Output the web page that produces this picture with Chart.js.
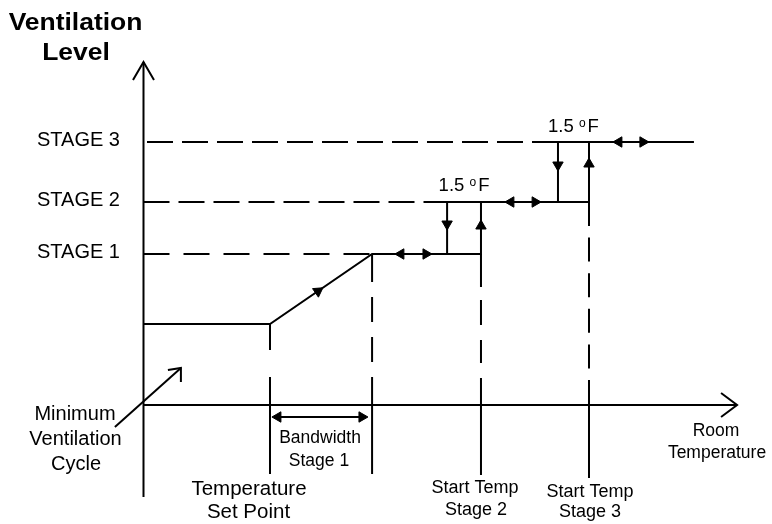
<!DOCTYPE html>
<html>
<head>
<meta charset="utf-8">
<script src="https://cdn.jsdelivr.net/npm/chart.js@4.4.0/dist/chart.umd.min.js"></script>
<style>
  html, body { margin: 0; padding: 0; background: #fff; }
  #wrap { width: 772px; height: 524px; }
</style>
</head>
<body>
<div id="wrap"><canvas id="ventChart" width="772" height="524"></canvas></div>
<script>
// x: room temperature in °F above the origin, y: ventilation level in %
const stageNames = ['STAGE 1', 'STAGE 2', 'STAGE 3'];
const stageLevels = [37.75, 50.75, 65.75];
const minLevel = 20.25;
const setPoint = 5.75;
const bandEnd = 10.39;
const stageOff = [13.8, 18.84];      // stage 2 / 3 switch back off
const stageOn = [15.34, 20.25];      // start temp stage 2 / 3
const lineEnd = 25.02;
const axisTop = 85.75;
const axisBottom = -23;
const axisRight = 26.98;
const tickBottom = [-17.25, -17.25, -17.5, -18.25];
const hystArrows = [[11.70, 12.84], [16.70, 17.80], [21.61, 22.70]];
const downArrows = [45.25, 60];
const upArrows = [44.75, 60.25];
const rampArrow = [7.93, 28.45];
const bandArrowY = -3;
const bandArrowX = [6.11, 9.93];
const minVentFrom = [-1.30, -5.5];
const minVentTo = [1.70, 9.25];
const hysteresis = '1.5';

const FONT = '"Liberation Sans", Arial, sans-serif';

function line(points, extra) {
    return Object.assign({
        data: points.map(p => ({ x: p[0], y: p[1] })),
        showLine: true,
        borderColor: '#000',
        borderWidth: 2,
        pointRadius: 0,
        fill: false,
        borderCapStyle: 'butt'
    }, extra || {});
}

const s1 = stageLevels[0], s2 = stageLevels[1], s3 = stageLevels[2];

// arrowheads drawn as triangle points
const heads = [];
hystArrows.forEach((pair, i) => {
    heads.push({ x: pair[0], y: stageLevels[i], r: 270 });
    heads.push({ x: pair[1], y: stageLevels[i], r: 90 });
});
heads.push({ x: stageOff[0], y: downArrows[0], r: 180 });
heads.push({ x: stageOff[1], y: downArrows[1], r: 180 });
heads.push({ x: stageOn[0], y: upArrows[0], r: 0 });
heads.push({ x: stageOn[1], y: upArrows[1], r: 0 });
heads.push({ x: rampArrow[0], y: rampArrow[1], r: 55.5 });
heads.push({ x: bandArrowX[0], y: bandArrowY, r: 270 });
heads.push({ x: bandArrowX[1], y: bandArrowY, r: 90 });

const datasets = [
    // axes
    line([[0, axisBottom], [0, axisTop]]),
    line([[0, 0], [axisRight, 0]]),
    // dashed stage levels
    line([[0, s1], [bandEnd, s1]], { borderDash: [26, 14] }),
    line([[0, s2], [stageOff[0], s2]], { borderDash: [26, 9] }),
    line([[0, s3], [stageOff[1], s3]], { borderDash: [26, 9], borderDashOffset: 31.5 }),
    // ventilation profile
    line([[0, minLevel], [setPoint, minLevel], [bandEnd, s1], [stageOn[0], s1], [stageOn[0], s2]]),
    line([[stageOff[0], s1], [stageOff[0], s2], [stageOn[1], s2], [stageOn[1], s3]]),
    line([[stageOff[1], s2], [stageOff[1], s3], [lineEnd, s3]]),
    // dashed verticals down to the axis
    line([[setPoint, minLevel], [setPoint, 0]], { borderDash: [26, 27, 30] }),
    line([[bandEnd, s1], [bandEnd, 0]], { borderDash: [28, 15, 25, 15, 25, 15, 30] }),
    line([[stageOn[0], s1], [stageOn[0], 0]], { borderDash: [33, 13, 25, 15, 23, 15, 30] }),
    line([[stageOn[1], s2], [stageOn[1], 0]], { borderDash: [24, 11.6] }),
    // solid ticks below the axis
    line([[setPoint, 0], [setPoint, tickBottom[0]]]),
    line([[bandEnd, 0], [bandEnd, tickBottom[1]]]),
    line([[stageOn[0], 0], [stageOn[0], tickBottom[2]]]),
    line([[stageOn[1], 0], [stageOn[1], tickBottom[3]]]),
    // bandwidth and minimum ventilation arrows
    line([[bandArrowX[0], bandArrowY], [bandArrowX[1], bandArrowY]]),
    line([minVentFrom, minVentTo]),
    {
        data: heads.map(h => ({ x: h.x, y: h.y })),
        showLine: false,
        pointStyle: 'triangle',
        pointRadius: 6,
        pointRotation: heads.map(h => h.r),
        pointBackgroundColor: '#000',
        pointBorderColor: '#000',
        pointBorderWidth: 1
    }
];

function openHead(ctx, tx, ty, arms) {
    ctx.beginPath();
    ctx.moveTo(tx + arms[0][0], ty + arms[0][1]);
    ctx.lineTo(tx, ty);
    ctx.lineTo(tx + arms[1][0], ty + arms[1][1]);
    ctx.stroke();
}

function text(ctx, str, cx, base, size, bold, sx) {
    ctx.save();
    ctx.font = (bold ? 'bold ' : '') + size + 'px ' + FONT;
    ctx.translate(cx, base);
    ctx.scale(sx || 1, 1);
    ctx.textAlign = 'center';
    ctx.textBaseline = 'alphabetic';
    ctx.fillText(str, 0, 0);
    ctx.restore();
}

function degreeLabel(ctx, cx, base) {
    ctx.save();
    ctx.textBaseline = 'alphabetic';
    ctx.textAlign = 'left';
    const big = '18.5px ' + FONT, small = '12px ' + FONT;
    ctx.font = big;
    const w1 = ctx.measureText(hysteresis + ' ').width;
    const w3 = ctx.measureText('F').width;
    ctx.font = small;
    const w2 = ctx.measureText('o').width;
    let x0 = cx - (w1 + w2 + w3 + 2) / 2;
    ctx.font = big;
    ctx.fillText(hysteresis + ' ', x0, base);
    ctx.font = small;
    ctx.fillText('o', x0 + w1, base - 5);
    ctx.font = big;
    ctx.fillText('F', x0 + w1 + w2 + 2, base);
    ctx.restore();
}

const diagramPlugin = {
    id: 'diagram',
    afterDatasetsDraw(chart) {
        const { ctx, scales: { x, y } } = chart;
        const px = v => x.getPixelForValue(v);
        const py = v => y.getPixelForValue(v);
        ctx.save();
        ctx.strokeStyle = '#000';
        ctx.fillStyle = '#000';
        ctx.lineWidth = 2;
        ctx.lineJoin = 'miter';

        // open arrowheads
        openHead(ctx, px(0), py(axisTop), [[-10.5, 18], [10.5, 18]]);
        openHead(ctx, px(axisRight), py(0), [[-16, -12], [-16, 12]]);
        openHead(ctx, px(minVentTo[0]), py(minVentTo[1]), [[-13, 2], [0, 14]]);

        // axis title
        text(ctx, 'Ventilation', 75.5, 30, 23, true, 1.15);
        text(ctx, 'Level', 76, 60, 23, true, 1.15);

        // stage names
        ctx.save();
        ctx.font = '20px ' + FONT;
        ctx.textAlign = 'left';
        stageLevels.forEach((lv, i) => ctx.fillText(stageNames[i], 37, py(lv) + 4));
        ctx.restore();

        // hysteresis labels
        degreeLabel(ctx, (px(stageOff[0]) + px(stageOn[0])) / 2, py(s2) - 11);
        degreeLabel(ctx, (px(stageOff[1]) + px(stageOn[1])) / 2, py(s3) - 10);

        // bottom labels
        text(ctx, 'Minimum', 75, 420, 20);
        text(ctx, 'Ventilation', 75.5, 445, 20);
        text(ctx, 'Cycle', 76, 470, 20);
        text(ctx, 'Temperature', 249, 495, 20.5);
        text(ctx, 'Set Point', 248.5, 518, 20.5);
        text(ctx, 'Bandwidth', 320, 443, 17.5);
        text(ctx, 'Stage 1', 319, 466, 17.5);
        text(ctx, 'Start Temp', 475, 493, 18);
        text(ctx, 'Stage 2', 476, 515, 18);
        text(ctx, 'Start Temp', 590, 497, 18);
        text(ctx, 'Stage 3', 590, 517, 18);
        text(ctx, 'Room', 716, 436, 17.5);
        text(ctx, 'Temperature', 717, 458, 17.5);
        ctx.restore();
    }
};

document.addEventListener('DOMContentLoaded', function() {
    const canvas = document.getElementById('ventChart');
    new Chart(canvas.getContext('2d'), {
        type: 'scatter',
        data: { datasets: datasets },
        options: {
            responsive: false,
            animation: false,
            events: [],
            layout: { padding: 0, autoPadding: false },
            plugins: {
                legend: { display: false },
                tooltip: { enabled: false }
            },
            scales: {
                x: { type: 'linear', display: false, min: -6.5227, max: 28.5682 },
                y: { type: 'linear', display: false, min: -29.75, max: 101.25 }
            }
        },
        plugins: [diagramPlugin]
    });
});
</script>
</body>
</html>
